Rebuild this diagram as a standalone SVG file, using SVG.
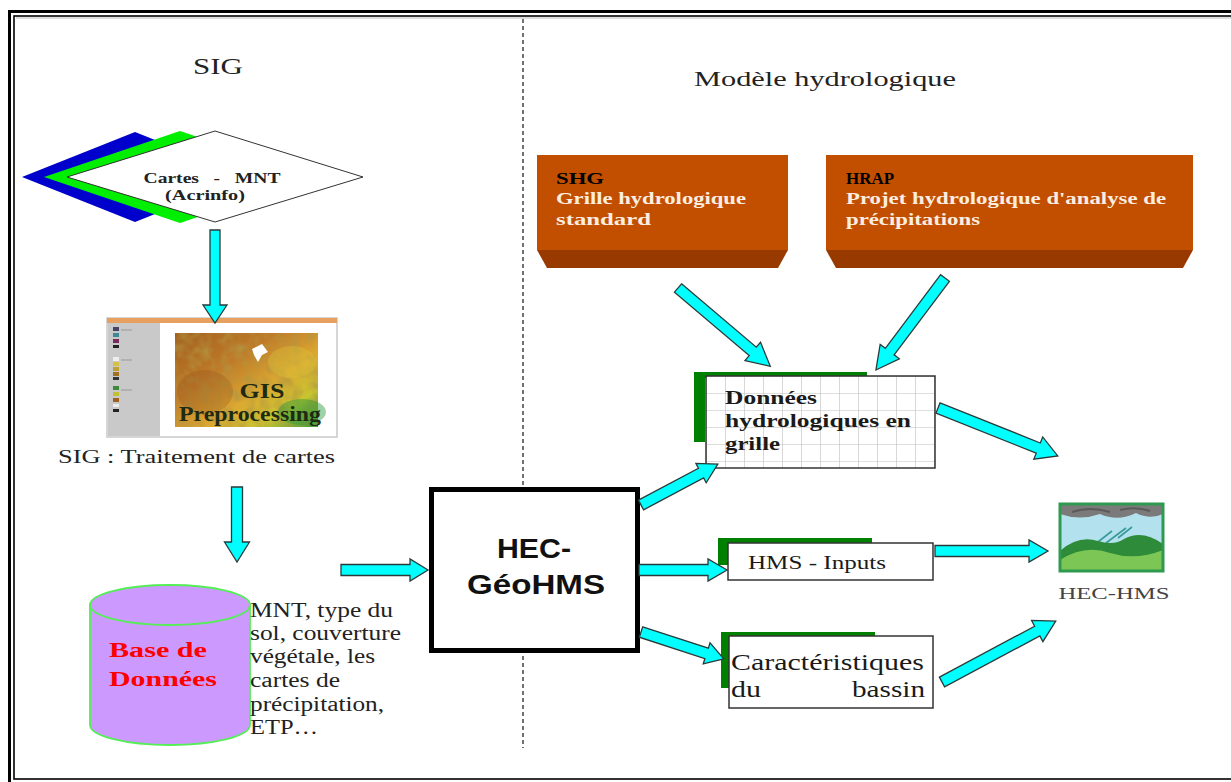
<svg xmlns="http://www.w3.org/2000/svg" width="1231" height="782" viewBox="0 0 1231 782">
  <style>
    .serif { font-family: "Liberation Serif", "Times New Roman", serif; }
    .sans { font-family: "Liberation Sans", Arial, sans-serif; }
    .arr { fill: #00ffff; stroke: #2a3a3a; stroke-width: 1.3; stroke-linejoin: miter; }
    .tag { fill: #008000; }
    .card { fill: #ffffff; stroke: #333; stroke-width: 1.5; }
    .brick { fill: #c24f00; }
    .bevel { fill: #983a00; }
    .pre { white-space: pre; }
  </style>
  <defs>
    <pattern id="grid" x="706" y="376" width="19" height="17" patternUnits="userSpaceOnUse">
      <rect width="19" height="17" fill="#ffffff"/>
      <path d="M0,0 V17 M0,0 H19" stroke="#bdbdbd" stroke-width="1.2" fill="none"/>
    </pattern>
    <linearGradient id="terrain" x1="0" y1="0" x2="1" y2="1">
      <stop offset="0" stop-color="#a0601f"/>
      <stop offset="0.35" stop-color="#bf7a28"/>
      <stop offset="0.6" stop-color="#dca831"/>
      <stop offset="0.8" stop-color="#c8c430"/>
      <stop offset="1" stop-color="#2e9a3a"/>
    </linearGradient>
    <filter id="grain" x="0" y="0" width="1" height="1">
      <feTurbulence type="fractalNoise" baseFrequency="0.09" numOctaves="2" seed="4" result="n"/>
      <feColorMatrix in="n" type="matrix" values="0 0 0 0 0.45  0 0 0 0 0.3  0 0 0 0 0.05  0 0 0 1.6 -0.6" result="c"/>
      <feComposite in="c" in2="SourceGraphic" operator="in"/>
    </filter>
  </defs>

  <!-- page frame: thick outer rule with a thin inner rule -->
  <rect x="9.5" y="11.5" width="1240" height="780" fill="none" stroke="#000" stroke-width="3"/>
  <rect x="14" y="16" width="1232" height="763" fill="none" stroke="#000" stroke-width="1.6"/>
  <line x1="16" y1="18" x2="1231" y2="18" stroke="#bbb" stroke-width="1"/>

  <!-- split between the two halves -->
  <line x1="523" y1="19" x2="523" y2="748" stroke="#707070" stroke-width="2" stroke-dasharray="4 3"/>

  <!-- section headings -->
  <text class="serif" x="218" y="74" font-size="23" text-anchor="middle" fill="#222" textLength="50" lengthAdjust="spacingAndGlyphs">SIG</text>
  <text class="serif" x="825" y="86" font-size="22" text-anchor="middle" fill="#222" textLength="262" lengthAdjust="spacingAndGlyphs">Modèle hydrologique</text>

  <!-- input maps -->
  <g id="cartes-mnt">
    <polygon points="22,177 135,132 248,177 135,222" fill="#0000cc"/>
    <polygon points="44,177 180,131 316,177 180,223" fill="#00ee00"/>
    <polygon points="67,177 215,131 363,177 215,222" fill="#ffffff" stroke="#333" stroke-width="1"/>
    <text class="serif pre" x="212" y="183" font-size="14" font-weight="bold" text-anchor="middle" fill="#222" textLength="137" lengthAdjust="spacingAndGlyphs">Cartes   -   MNT</text>
    <text class="serif" x="205" y="200" font-size="14" font-weight="bold" text-anchor="middle" fill="#222" textLength="80" lengthAdjust="spacingAndGlyphs">(Acrinfo)</text>
  </g>

  <!-- map processing screenshot -->
  <g id="gis-preprocessing">
    <rect x="107" y="318" width="230" height="119" fill="#ffffff" stroke="#c9c9c9" stroke-width="1.5"/>
    <rect x="107" y="318" width="230" height="5" fill="#e8a060"/>
    <rect x="108" y="323" width="52" height="113" fill="#c9c9c9"/>
    <rect x="113" y="327" width="6" height="4" fill="#446"/>
    <rect x="113" y="333" width="6" height="4" fill="#3a8a9a"/>
    <rect x="113" y="339" width="6" height="4" fill="#7a2a5a"/>
    <rect x="113" y="345" width="6" height="3" fill="#222"/>
    <rect x="113" y="357" width="6" height="4" fill="#eee"/>
    <rect x="113" y="362" width="6" height="4" fill="#d8c040"/>
    <rect x="113" y="367" width="6" height="4" fill="#c0a030"/>
    <rect x="113" y="372" width="6" height="4" fill="#a07020"/>
    <rect x="113" y="377" width="6" height="3" fill="#333"/>
    <rect x="113" y="386" width="6" height="4" fill="#3a8a3a"/>
    <rect x="113" y="392" width="6" height="4" fill="#c0c030"/>
    <rect x="113" y="398" width="6" height="4" fill="#a06020"/>
    <rect x="113" y="404" width="6" height="3" fill="#eee"/>
    <rect x="113" y="409" width="6" height="3" fill="#222"/>
    <line x1="121" y1="330" x2="132" y2="330" stroke="#999" stroke-width="1"/>
    <line x1="121" y1="360" x2="132" y2="360" stroke="#999" stroke-width="1"/>
    <line x1="121" y1="390" x2="132" y2="390" stroke="#999" stroke-width="1"/>
    <rect x="175" y="333" width="143" height="94" fill="url(#terrain)"/>
    <rect x="175" y="333" width="143" height="94" fill="#fff" filter="url(#grain)"/>
    <ellipse cx="292" cy="362" rx="24" ry="16" fill="#dcc63a" opacity="0.35"/>
    <ellipse cx="302" cy="412" rx="24" ry="13" fill="#2a9a3a" opacity="0.45"/>
    <ellipse cx="205" cy="392" rx="28" ry="22" fill="#8a4a1a" opacity="0.25"/>
    <path d="M252,349 L262,344 L268,352 L262,355 L258,362 L254,355 Z" fill="#ffffff"/>
    <text class="serif" x="262" y="398" font-size="21" font-weight="bold" text-anchor="middle" fill="#1e2a12" textLength="45" lengthAdjust="spacingAndGlyphs">GIS</text>
    <text class="serif" x="250" y="421" font-size="21" font-weight="bold" text-anchor="middle" fill="#1e2a12" textLength="142" lengthAdjust="spacingAndGlyphs">Preprocessing</text>
    <text class="serif" x="58" y="463" font-size="19" fill="#222" textLength="277" lengthAdjust="spacingAndGlyphs">SIG : Traitement de cartes</text>
  </g>

  <!-- database -->
  <g id="base-de-donnees">
    <path d="M90,605 V725 A80,20 0 0 0 250,725 V605 Z" fill="#cc99ff" stroke="#55ee55" stroke-width="1.8"/>
    <ellipse cx="170" cy="605" rx="80" ry="20" fill="#cc99ff" stroke="#55ee55" stroke-width="1.8"/>
    <text class="serif" x="158" y="657" font-size="22" font-weight="bold" text-anchor="middle" fill="#ff0000" textLength="98" lengthAdjust="spacingAndGlyphs">Base de</text>
    <text class="serif" x="163" y="686" font-size="22" font-weight="bold" text-anchor="middle" fill="#ff0000" textLength="108" lengthAdjust="spacingAndGlyphs">Données</text>
  </g>
  <g id="contenu-base" class="serif" font-size="20" fill="#222">
    <text x="250" y="617" textLength="143" lengthAdjust="spacingAndGlyphs">MNT, type du</text>
    <text x="250" y="640" textLength="151" lengthAdjust="spacingAndGlyphs">sol, couverture</text>
    <text x="250" y="663" textLength="125" lengthAdjust="spacingAndGlyphs">végétale, les</text>
    <text x="250" y="687" textLength="90" lengthAdjust="spacingAndGlyphs">cartes de</text>
    <text x="250" y="711" textLength="134" lengthAdjust="spacingAndGlyphs">précipitation,</text>
    <text x="250" y="734" textLength="68" lengthAdjust="spacingAndGlyphs">ETP…</text>
  </g>

  <!-- central processing tool -->
  <g id="hec-geohms">
    <rect x="431.5" y="489.5" width="206" height="161" fill="#ffffff" stroke="#000" stroke-width="5"/>
    <text class="sans" x="534" y="558" font-size="28" font-weight="bold" text-anchor="middle" fill="#111" textLength="74" lengthAdjust="spacingAndGlyphs">HEC-</text>
    <text class="sans" x="536" y="594" font-size="28" font-weight="bold" text-anchor="middle" fill="#111" textLength="138" lengthAdjust="spacingAndGlyphs">GéoHMS</text>
  </g>

  <!-- gridded sources -->
  <g id="shg">
    <rect class="brick" x="537" y="155" width="251" height="95"/>
    <polygon class="bevel" points="537,250 788,250 778,268 547,268"/>
    <text class="serif" x="556" y="184" font-size="17" font-weight="bold" fill="#000" textLength="48" lengthAdjust="spacingAndGlyphs">SHG</text>
    <text class="serif" x="556" y="204" font-size="17" font-weight="bold" fill="#fbeee0" textLength="190" lengthAdjust="spacingAndGlyphs">Grille hydrologique</text>
    <text class="serif" x="556" y="225" font-size="17" font-weight="bold" fill="#fbeee0" textLength="95" lengthAdjust="spacingAndGlyphs">standard</text>
  </g>
  <g id="hrap">
    <rect class="brick" x="826" y="155" width="367" height="95"/>
    <polygon class="bevel" points="826,250 1193,250 1183,268 836,268"/>
    <text class="serif" x="846" y="184" font-size="17" font-weight="bold" fill="#000" textLength="48" lengthAdjust="spacingAndGlyphs">HRAP</text>
    <text class="serif" x="846" y="204" font-size="17" font-weight="bold" fill="#fbeee0" textLength="320" lengthAdjust="spacingAndGlyphs">Projet hydrologique d'analyse de</text>
    <text class="serif" x="846" y="225" font-size="17" font-weight="bold" fill="#fbeee0" textLength="134" lengthAdjust="spacingAndGlyphs">précipitations</text>
  </g>

  <!-- model inputs -->
  <g id="donnees-grille">
    <rect class="tag" x="694" y="372" width="173" height="6"/>
    <rect class="tag" x="694" y="372" width="11" height="70"/>
    <rect x="706" y="376" width="229" height="92" fill="url(#grid)" stroke="#333" stroke-width="1.5"/>
    <text class="serif" x="725" y="404" font-size="18" font-weight="bold" fill="#1a1a1a" textLength="92" lengthAdjust="spacingAndGlyphs">Données</text>
    <text class="serif" x="725" y="427" font-size="18" font-weight="bold" fill="#1a1a1a" textLength="186" lengthAdjust="spacingAndGlyphs">hydrologiques en</text>
    <text class="serif" x="725" y="450" font-size="18" font-weight="bold" fill="#1a1a1a" textLength="55" lengthAdjust="spacingAndGlyphs">grille</text>
  </g>
  <g id="hms-inputs">
    <rect class="tag" x="718" y="538" width="154" height="6"/>
    <rect class="tag" x="718" y="538" width="10" height="27"/>
    <rect class="card" x="728" y="543" width="205" height="37"/>
    <text class="serif" x="748" y="569" font-size="18" fill="#1a1a1a" textLength="138" lengthAdjust="spacingAndGlyphs">HMS - Inputs</text>
  </g>
  <g id="caracteristiques">
    <rect class="tag" x="721" y="632" width="154" height="6"/>
    <rect class="tag" x="721" y="632" width="9" height="56"/>
    <rect class="card" x="729" y="636" width="204" height="72"/>
    <text class="serif" x="731" y="670" font-size="24" fill="#1a1a1a" textLength="193" lengthAdjust="spacingAndGlyphs">Caractéristiques</text>
    <text class="serif" x="731" y="697" font-size="24" fill="#1a1a1a" textLength="30" lengthAdjust="spacingAndGlyphs">du</text>
    <text class="serif" x="925" y="697" font-size="24" fill="#1a1a1a" text-anchor="end" textLength="73" lengthAdjust="spacingAndGlyphs">bassin</text>
  </g>

  <!-- hydrologic model -->
  <g id="hec-hms">
    <rect x="1060" y="504" width="103" height="67" fill="#b3e2ee"/>
    <path d="M1060,504 H1163 V514 Q1150,520 1136,513 Q1118,522 1100,514 Q1080,521 1060,514 Z" fill="#7a7a7a"/>
    <path d="M1072,512 Q1090,506 1110,512 M1120,510 Q1135,506 1150,511" stroke="#5a5a5a" stroke-width="2" fill="none"/>
    <path d="M1094,545 L1112,531 M1106,543 L1126,528 M1118,538 L1132,527" stroke="#3a9a9a" stroke-width="1.6" fill="none"/>
    <path d="M1060,551 Q1078,535 1098,541 Q1114,546 1124,539 Q1142,529 1163,544 V571 H1060 Z" fill="#2e8b3a"/>
    <path d="M1060,560 Q1085,544 1110,553 Q1136,561 1163,550 V571 H1060 Z" fill="#7cc655"/>
    <rect x="1060" y="504" width="103" height="67" fill="none" stroke="#2f9a4f" stroke-width="3"/>
    <text class="serif" x="1114" y="599" font-size="17" text-anchor="middle" fill="#444" textLength="111" lengthAdjust="spacingAndGlyphs">HEC-HMS</text>
  </g>

  <!-- block arrows: drawn along +x from the tail, then placed and turned -->
  <g id="connecteurs">
    <polygon class="arr" transform="translate(215,230) rotate(90)" points="0,-5 75,-5 75,-12 93,0 75,12 75,5 0,5"/>
    <polygon class="arr" transform="translate(237,487) rotate(90)" points="0,-5.5 55,-5.5 55,-12.5 75,0 55,12.5 55,5.5 0,5.5"/>
    <polygon class="arr" transform="translate(341,570)" points="0,-5.5 69,-5.5 69,-11 87,0 69,11 69,5.5 0,5.5"/>
    <polygon class="arr" transform="translate(678,288) rotate(40.3)" points="0,-5.5 98,-5.5 98,-12 121,0 98,12 98,5.5 0,5.5"/>
    <polygon class="arr" transform="translate(945,278) rotate(126.9)" points="0,-5.5 92,-5.5 92,-12 115,0 92,12 92,5.5 0,5.5"/>
    <polygon class="arr" transform="translate(641,505) rotate(-28)" points="0,-5.5 68,-5.5 68,-11 87,0 68,11 68,5.5 0,5.5"/>
    <polygon class="arr" transform="translate(639,570)" points="0,-5.5 69,-5.5 69,-11 88,0 69,11 69,5.5 0,5.5"/>
    <polygon class="arr" transform="translate(641,632) rotate(18)" points="0,-5.5 69,-5.5 69,-11 87,0 69,11 69,5.5 0,5.5"/>
    <polygon class="arr" transform="translate(938,408) rotate(21.8)" points="0,-5.5 108,-5.5 108,-12 129,0 108,12 108,5.5 0,5.5"/>
    <polygon class="arr" transform="translate(935,551)" points="0,-5.5 94,-5.5 94,-11 113,0 94,11 94,5.5 0,5.5"/>
    <polygon class="arr" transform="translate(942,682) rotate(-28.15)" points="0,-5.5 108,-5.5 108,-12 129,0 108,12 108,5.5 0,5.5"/>
  </g>
</svg>
